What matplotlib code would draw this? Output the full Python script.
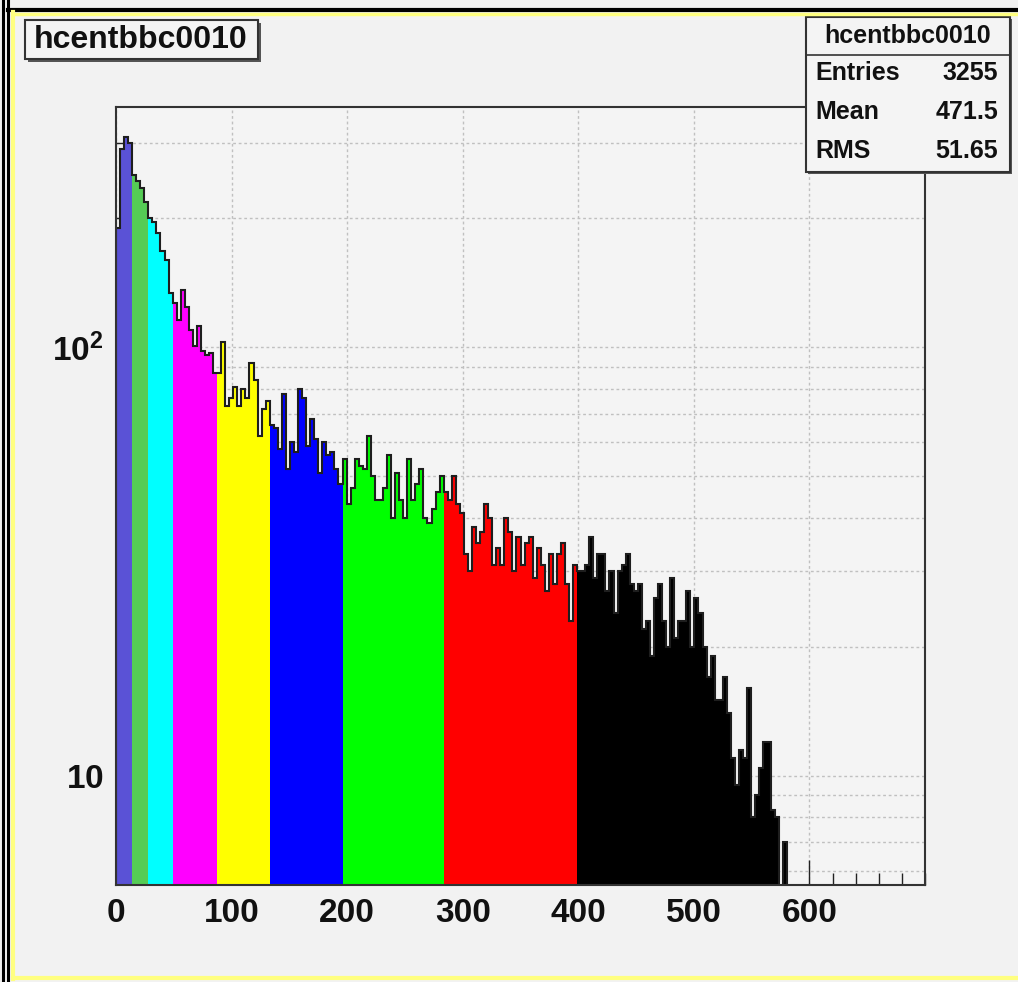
import numpy as np
import matplotlib
matplotlib.use("Agg")
import matplotlib.pyplot as plt
from matplotlib.ticker import FixedLocator, MultipleLocator, NullFormatter
from matplotlib.patches import Rectangle
from matplotlib.lines import Line2D

# ---------------- data ----------------
hist_name = "hcentbbc0010"
bin_width = 3.5
counts = [
    190, 290, 310, 300,                                   # 0-13
    252, 245, 235, 218,                                   # 14-27
    200, 196, 185, 168, 160, 134,                         # 28-48
    127, 116, 136, 124, 110, 101, 112, 98, 96, 97, 87,    # 49-87
    87, 103, 73, 76, 81, 73, 80, 76, 92, 84, 62, 72, 75,  # 87.5-133
    66, 65, 58, 78, 52, 60, 57, 80, 76, 59, 68, 61, 51, 60, 56, 57, 52, 48,
    55, 43, 47, 55, 53, 52, 62, 50, 44, 44, 47, 56, 40, 51, 44, 40, 55, 44,
    48, 52, 40, 39, 42, 46, 50,
    46, 44, 50, 43, 41, 33, 30, 38, 35, 37, 43, 40, 31, 34, 31, 40, 37, 30,
    36, 31, 35, 36, 29, 34, 31, 27, 33, 28, 33, 35, 28, 23, 31,
    30, 30, 31, 36, 29, 33, 33, 27, 30, 24, 30, 31, 33, 28, 27, 28, 22, 23,
    19, 26, 28, 23, 20, 29, 21, 23, 23, 27, 20, 26, 24, 20, 17, 19, 15, 15,
    17, 14, 11, 9.5, 11.5, 11, 16, 8, 9, 10.4, 12, 12, 8.3, 8, 0, 7,
]
region_edges = [0, 14, 28, 49, 87.5, 133, 196, 283.5, 399, 600]
region_colors = ["#5a52d6", "#55cc55", "#00ffff", "#ff00ff", "#ffff00",
                 "#0000ff", "#00ff00", "#ff0000", "#000000"]
stats_labels = ["Entries", "Mean", "RMS"]
stats_values = ["3255", "471.5", "51.65"]
x_major = [0, 100, 200, 300, 400, 500, 600]
x_labels = ["0", "100", "200", "300", "400", "500", "600"]
y_major = [10, 100]
y_labels = [r"$\mathbf{10}$", r"$\mathbf{10^{2}}$"]
y_minor = [6, 7, 8, 9, 20, 30, 40, 50, 60, 70, 80, 90, 200, 300]

# ---------------- style ----------------
W, H = 1018, 982
plt.rcParams["font.family"] = ["Liberation Sans", "DejaVu Sans"]
plt.rcParams["mathtext.fontset"] = "custom"
plt.rcParams["mathtext.rm"] = "Liberation Sans:bold"
plt.rcParams["mathtext.bf"] = "Liberation Sans:bold"
plt.rcParams["mathtext.it"] = "Liberation Sans:bold"

fig = plt.figure(figsize=(W / 100, H / 100), dpi=100)
fig.patch.set_facecolor("#f2f2f2")

def fx(x):
    return x / W

def fy(y):
    return 1 - y / H

L, R, T, B = 116, 925, 107, 885
ax = fig.add_axes([fx(L), fy(B), (R - L) / W, (B - T) / H])
ax.set_facecolor("#f4f4f4")

cts = np.array(counts, dtype=float)
edges = np.arange(len(cts) + 1) * bin_width
plot_cts = np.where(cts > 0, cts, 0.5)
base = 0.5

ax.set_yscale("log")
for lo, hi, col in zip(region_edges[:-1], region_edges[1:], region_colors):
    idx = np.where((edges[:-1] >= lo - 1e-9) & (edges[:-1] < hi - 1e-9))[0]
    if len(idx) == 0:
        continue
    i0, i1 = idx[0], idx[-1] + 1
    ax.stairs(plot_cts[i0:i1], edges[i0:i1 + 1], fill=True, color=col,
              baseline=base, zorder=2, linewidth=0)
ax.stairs(plot_cts, edges, fill=False, color="#1e1e1e", linewidth=1.5,
          baseline=base, zorder=3)

ax.set_xlim(0, 700)
ax.set_ylim(5.56, 364)

ax.xaxis.set_major_locator(FixedLocator(x_major))
ax.set_xticklabels(x_labels)
ax.xaxis.set_minor_locator(MultipleLocator(20))
ax.yaxis.set_major_locator(FixedLocator(y_major))
ax.set_yticklabels(y_labels)
ax.yaxis.set_minor_locator(FixedLocator(y_minor))
ax.yaxis.set_minor_formatter(NullFormatter())

ax.grid(True, which="major", axis="x", color="#c0c0c0", linestyle=(0, (2, 2)), linewidth=1.0, zorder=1)
ax.grid(True, which="both", axis="y", color="#c0c0c0", linestyle=(0, (2, 2)), linewidth=1.0, zorder=1)
ax.set_axisbelow(True)

ax.tick_params(axis="both", which="both", direction="in", top=False, right=False,
               colors="#222222", width=1.0)
ax.tick_params(axis="both", which="major", length=18, pad=9)
ax.tick_params(axis="both", which="minor", length=9)
for lab in ax.get_xticklabels():
    lab.set_weight("bold")
    lab.set_fontsize(24)
    lab.set_color("#111111")
for lab in ax.get_yticklabels():
    lab.set_fontsize(24)
    lab.set_color("#111111")
for s in ax.spines.values():
    s.set_color("#333333")
    s.set_linewidth(1.5)
    s.set_zorder(5)

# ---------------- boxes ----------------
def box(x0, y0, x1, y1, shadow=3):
    fig.add_artist(Rectangle((fx(x0 + shadow), fy(y1 + shadow)),
                             (x1 - x0) / W, (y1 - y0) / H,
                             transform=fig.transFigure, facecolor="#555555",
                             edgecolor="none", zorder=10))
    fig.add_artist(Rectangle((fx(x0), fy(y1)), (x1 - x0) / W, (y1 - y0) / H,
                             transform=fig.transFigure, facecolor="#f4f4f4",
                             edgecolor="#333333", linewidth=1.5, zorder=11))

# title box
box(25, 20, 258, 59, shadow=3)
fig.text(fx(141), fy(40), hist_name, ha="center", va="center", fontsize=23,
         fontweight="bold", color="#111111", zorder=12)

# stats box
box(806, 17, 1010, 172, shadow=2)
fig.add_artist(Line2D([fx(806), fx(1010)], [fy(55), fy(55)], transform=fig.transFigure,
                      color="#333333", linewidth=1.2, zorder=12))
fig.text(fx(908), fy(36), hist_name, ha="center", va="center", fontsize=18,
         fontweight="bold", color="#111111", zorder=12)
for i, (lab, val) in enumerate(zip(stats_labels, stats_values)):
    yy = 73 + i * 39
    fig.text(fx(815), fy(yy), lab, ha="left", va="center", fontsize=18,
             fontweight="bold", color="#111111", zorder=12)
    fig.text(fx(998), fy(yy), val, ha="right", va="center", fontsize=18,
             fontweight="bold", color="#111111", zorder=12)

# ---------------- canvas border ----------------
def fline(xs, ys, color, lw):
    fig.add_artist(Line2D([fx(v) for v in xs], [fy(v) for v in ys],
                          transform=fig.transFigure, color=color, linewidth=lw, zorder=20))

fline([3, 3], [0, H], "#000000", 2.2)
fline([8, 8], [0, H], "#000000", 2.2)
fline([8, W], [10, 10], "#000000", 3.0)
fline([13, 13], [12, 979], "#ffff80", 3.0)
fline([13, W], [13.5, 13.5], "#ffff80", 2.5)
fline([13, W], [978, 978], "#ffff80", 3.0)

fig.savefig("out.png", dpi=100, facecolor=fig.get_facecolor())
